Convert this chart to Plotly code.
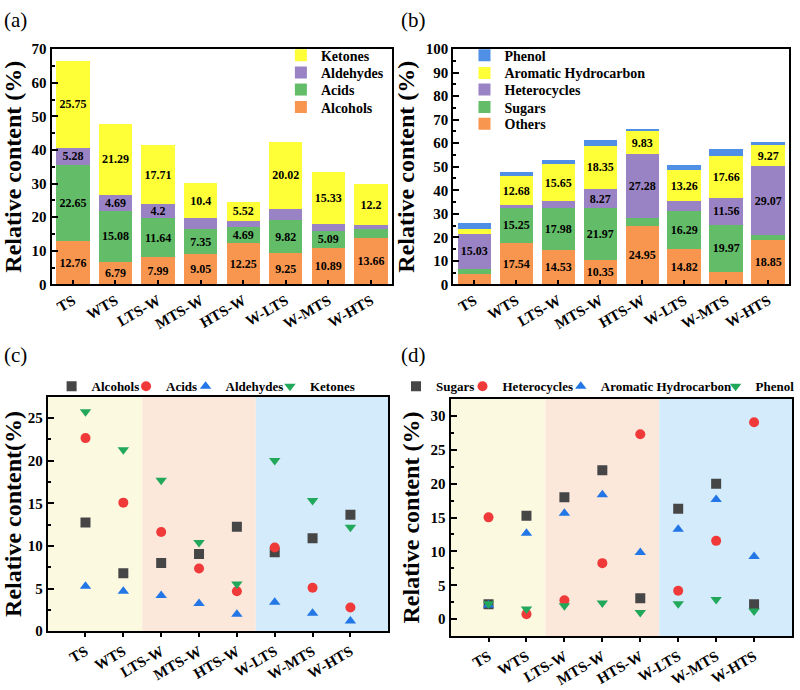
import plotly.graph_objects as go

samples = ["TS", "WTS", "LTS-W", "MTS-W", "HTS-W", "W-LTS", "W-MTS", "W-HTS"]

# Panel (a)/(c) series
alcohols = [12.76, 6.79, 7.99, 9.05, 12.25, 9.25, 10.89, 13.66]
acids = [22.65, 15.08, 11.64, 7.35, 4.69, 9.82, 5.09, 2.78]
aldehydes = [5.28, 4.69, 4.2, 3.25, 2.0, 3.4, 2.1, 1.2]
ketones = [25.75, 21.29, 17.71, 10.4, 5.52, 20.02, 15.33, 12.2]

# Panel (b)/(d) series
others = [4.25, 17.54, 14.53, 10.35, 24.95, 14.82, 5.3, 18.85]
sugars = [2.2, 15.25, 17.98, 21.97, 3.1, 16.29, 19.97, 2.2]
heterocycles = [15.03, 0.75, 2.8, 8.27, 27.28, 4.2, 11.56, 29.07]
aromatic = [2.1, 12.68, 15.65, 18.35, 9.83, 13.26, 17.66, 9.27]
phenol = [2.3, 1.5, 2.0, 2.4, 1.0, 2.3, 2.9, 1.2]

C_ORANGE = "#F8964F"
C_GREEN = "#62BC68"
C_PURPLE = "#9A83C4"
C_YELLOW = "#FFFF38"
C_BLUE = "#4F90E6"

FONT = "Liberation Serif"

def labels(vals, thr):
    return [f"<b>{v:g}</b>" if v >= thr else "" for v in vals]

fig = go.Figure()
legend_layout = {}
leg_i = [1]

def new_legend(px_x, px_ytext, size, off):
    name = "legend" if leg_i[0] == 1 else f"legend{leg_i[0]}"
    leg_i[0] += 1
    legend_layout[name] = dict(x=px_x / 800, y=1 - (px_ytext - off) / 690, xanchor="left", yanchor="top",
                               bgcolor="rgba(0,0,0,0)", font=dict(family=FONT, size=size, color="black"),
                               itemwidth=30, visible=True)
    return name

# ---- (a) stacked bars  (legend rows: text centre y in px)
for name, vals, col, ly in [("Alcohols", alcohols, C_ORANGE, 107), ("Acids", acids, C_GREEN, 89),
                            ("Aldehydes", aldehydes, C_PURPLE, 71.5), ("Ketones", ketones, C_YELLOW, 54)]:
    fig.add_trace(go.Bar(x=samples, y=vals, name=f"<b>{name}</b>", marker=dict(color=col, line=dict(width=0)),
                         text=labels(vals, 4.0), textposition="inside", insidetextanchor="middle",
                         textangle=0, constraintext="none", showlegend=True,
                         textfont=dict(family=FONT, size=12, color="black"),
                         width=0.78, xaxis="x", yaxis="y", legend=new_legend(283, ly, 14, 21.5)))

# ---- (b) stacked bars
for name, vals, col, ly in [("Others", others, C_ORANGE, 124), ("Sugars", sugars, C_GREEN, 107),
                            ("Heterocycles", heterocycles, C_PURPLE, 89),
                            ("Aromatic Hydrocarbon", aromatic, C_YELLOW, 72), ("Phenol", phenol, C_BLUE, 54)]:
    fig.add_trace(go.Bar(x=samples, y=vals, name=f"<b>{name}</b>", marker=dict(color=col, line=dict(width=0)),
                         text=labels(vals, 8.0), textposition="inside", insidetextanchor="middle",
                         textangle=0, constraintext="none", showlegend=True,
                         textfont=dict(family=FONT, size=12, color="black"),
                         width=0.8, xaxis="x2", yaxis="y2", legend=new_legend(468, ly, 14, 21.5)))

# ---- (c) scatter (legend text start x in px)
for name, vals, col, sym, tx in [("Alcohols", alcohols, "#464646", "square", 89),
                                 ("Acids", acids, "#F03A3A", "circle", 164),
                                 ("Aldehydes", aldehydes, "#2276E6", "triangle-up", 224),
                                 ("Ketones", ketones, "#22A85A", "triangle-down", 309)]:
    fig.add_trace(go.Scatter(x=samples, y=vals, name=f"<b>{name}</b>", mode="markers",
                             marker=dict(color=col, symbol=sym, size=10), showlegend=True,
                             xaxis="x3", yaxis="y3", legend=new_legend(tx - 37, 386, 13, 14)))

# ---- (d) scatter
for name, vals, col, sym, tx in [("Sugars", sugars, "#464646", "square", 436),
                                 ("Heterocycles", heterocycles, "#F03A3A", "circle", 503),
                                 ("Aromatic Hydrocarbon", aromatic, "#2276E6", "triangle-up", 602),
                                 ("Phenol", phenol, "#22A85A", "triangle-down", 758)]:
    fig.add_trace(go.Scatter(x=samples, y=vals, name=f"<b>{name}</b>", mode="markers",
                             marker=dict(color=col, symbol=sym, size=10), showlegend=True,
                             xaxis="x4", yaxis="y4", legend=new_legend(tx - 37, 386, 13, 14)))

tickfont = dict(family=FONT, size=15, color="black")
titlefont = dict(family=FONT, size=24, color="black")

def xax(dom, anchor, rng, ticks):
    return dict(domain=dom, anchor=anchor, type="category", range=rng, showline=True, linecolor="black",
                linewidth=2, mirror=True, ticks=ticks, ticklen=4, tickwidth=1.5, tickcolor="black",
                tickangle=-30, tickfont=tickfont, showgrid=False, zeroline=False,
                tickvals=samples, ticktext=[f"<b>{s}</b>" for s in samples])

def yax(dom, anchor, rng, step, hi, title, minor):
    vals = list(range(0, hi + 1, step))
    return dict(domain=dom, anchor=anchor, range=rng, showline=True, linecolor="black",
                linewidth=2, mirror=True, ticks="inside", ticklen=6, tickwidth=1.5, tickcolor="black",
                tickvals=vals, ticktext=[f"<b>{v}</b>" for v in vals],
                minor=dict(ticks="inside", ticklen=3, tickcolor="black", dtick=minor, tick0=0),
                tickfont=tickfont, showgrid=False, zeroline=False,
                title=dict(text=title, font=titlefont, standoff=4))

fig.update_layout(
    width=800, height=690, margin=dict(l=0, r=0, t=0, b=0),
    paper_bgcolor="white", plot_bgcolor="white", barmode="stack", showlegend=True,
    font=dict(family=FONT, color="black"),
    uniformtext=dict(minsize=12, mode="show"),
    xaxis=xax([0.065, 0.494], "y", [-0.5, 7.5], "inside"),
    yaxis=yax([0.590, 0.939], "x", [0, 70], 10, 70, "<b>Relative content (%)</b>", 5),
    xaxis2=xax([0.571, 0.994], "y2", [-0.5, 7.5], "inside"),
    yaxis2=yax([0.590, 0.939], "x2", [0, 100], 10, 100, "<b>Relative content (%)</b>", 5),
    xaxis3=xax([0.060, 0.489], "y3", [-1, 8], "outside"),
    yaxis3=yax([0.0754, 0.4232], "x3", [0, 27.5], 5, 25, "<b>Relative content(%)</b>", 2.5),
    xaxis4=xax([0.5675, 0.9975], "y4", [-1, 8], "outside"),
    yaxis4=yax([0.068, 0.420], "x4", [-2.5, 32.5], 5, 30, "<b>Relative content (%)</b>", 2.5),
    **legend_layout,
)

# background bands for (c) and (d)
bands = [(-1, 1.5, "#FCF9E1"), (1.5, 4.5, "#FCE7DB"), (4.5, 8, "#D3EBFB")]
for xa, ya in [("x3", "y3"), ("x4", "y4")]:
    for x0, x1, col in bands:
        fig.add_shape(type="rect", xref=xa, yref=f"{ya} domain", x0=x0, x1=x1, y0=0, y1=1,
                      fillcolor=col, line=dict(width=0), layer="below")

for txt, x, y in [("(a)", 2, 12), ("(b)", 402, 12), ("(c)", 2, 355), ("(d)", 402, 355)]:
    fig.add_annotation(text=txt, x=x / 800, y=1 - y / 690, xref="paper", yref="paper",
                       xanchor="left", yanchor="middle",
                       showarrow=False, font=dict(family=FONT, size=21, color="black"))

fig.write_html("out.html")
